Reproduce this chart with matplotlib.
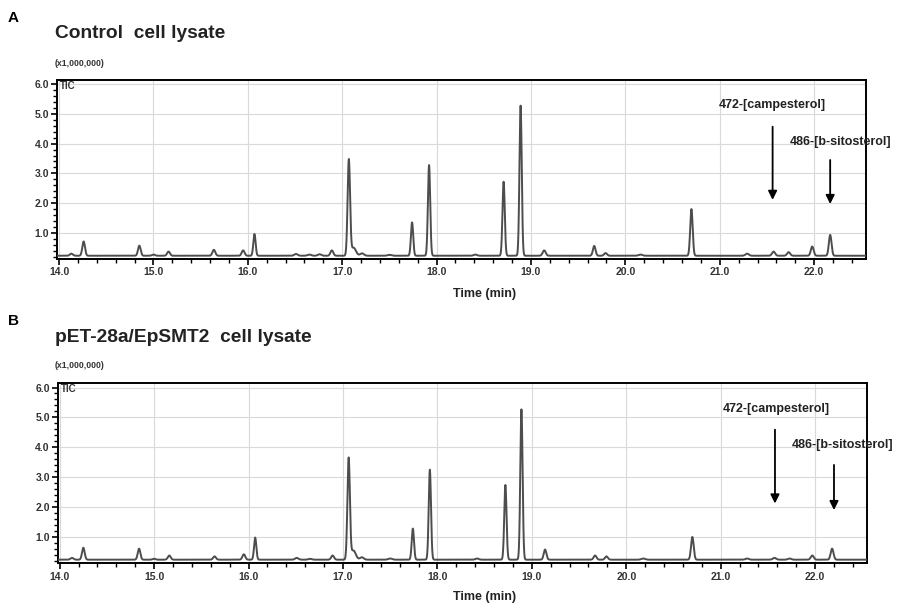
import numpy as np
import matplotlib
matplotlib.use("Agg")
import matplotlib.pyplot as plt
from matplotlib.ticker import MultipleLocator, FormatStrFormatter

plt.rcParams['font.family'] = ['Liberation Sans', 'DejaVu Sans']

# Retention time (min), apex intensity (x1,000,000) and width (min, sigma) of each peak
control_times = [14.13, 14.26, 14.85, 15.00, 15.16, 15.64, 15.95, 16.07, 16.51, 16.65,
                 16.76, 16.89, 17.07, 17.12, 17.21, 17.50, 17.74, 17.92, 18.41, 18.71,
                 18.89, 19.14, 19.67, 19.79, 20.16, 20.70, 21.29, 21.57, 21.73, 21.98, 22.17]
control_apex = [0.30, 0.71, 0.57, 0.27, 0.37, 0.43, 0.41, 0.96, 0.29, 0.27,
                0.28, 0.41, 3.45, 0.50, 0.31, 0.26, 1.35, 3.28, 0.27, 2.72,
                5.28, 0.41, 0.56, 0.32, 0.27, 1.80, 0.30, 0.37, 0.35, 0.54, 0.93]
control_width = [0.016, 0.014, 0.014, 0.016, 0.015, 0.015, 0.015, 0.012, 0.018, 0.018,
                 0.018, 0.015, 0.013, 0.025, 0.020, 0.020, 0.012, 0.012, 0.018, 0.012,
                 0.012, 0.016, 0.014, 0.015, 0.020, 0.013, 0.018, 0.016, 0.016, 0.015, 0.014]
control_baseline = 0.23

smt2_times = [14.13, 14.25, 14.84, 15.00, 15.16, 15.64, 15.95, 16.07, 16.51, 16.65,
              16.89, 17.06, 17.11, 17.20, 17.50, 17.74, 17.92, 18.42, 18.72, 18.89,
              19.14, 19.67, 19.79, 20.18, 20.70, 21.28, 21.57, 21.73, 21.97, 22.18]
smt2_apex = [0.30, 0.64, 0.61, 0.27, 0.38, 0.35, 0.42, 0.98, 0.30, 0.27,
             0.38, 3.62, 0.55, 0.32, 0.28, 1.28, 3.25, 0.28, 2.74, 5.27,
             0.58, 0.38, 0.35, 0.28, 1.00, 0.28, 0.30, 0.28, 0.38, 0.61]
smt2_width = [0.016, 0.014, 0.014, 0.016, 0.015, 0.015, 0.015, 0.012, 0.018, 0.018,
              0.015, 0.013, 0.025, 0.020, 0.020, 0.012, 0.012, 0.018, 0.012, 0.012,
              0.014, 0.015, 0.015, 0.020, 0.014, 0.018, 0.018, 0.018, 0.016, 0.015]
smt2_baseline = 0.24

panel_letters = ["A", "B"]
panel_titles = ["Control  cell lysate", "pET-28a/EpSMT2  cell lysate"]

# Marker annotations: label, arrow time, arrow start / tip intensity, label position
marker_labels = ["472-[campesterol]", "486-[b-sitosterol]"]
control_arrow_t = [21.56, 22.17]
control_arrow_from = [4.57, 3.45]
control_arrow_to = [2.11, 1.97]
control_label_t = [21.56, 22.28]
control_label_y = [5.29, 4.06]
smt2_arrow_t = [21.575, 22.20]
smt2_arrow_from = [4.59, 3.41]
smt2_arrow_to = [2.12, 1.90]
smt2_label_t = [21.59, 22.29]
smt2_label_y = [5.29, 4.06]

x_ticks = [14.0, 15.0, 16.0, 17.0, 18.0, 19.0, 20.0, 21.0, 22.0]
y_ticks = [1.0, 2.0, 3.0, 4.0, 5.0, 6.0]

XMIN, XMAX = 13.983, 22.55
YMIN, YMAX = 0.12, 6.14


def chromatogram(t, times, apex, widths, base):
    y = np.full_like(t, base)
    for tc, a, s in zip(times, apex, widths):
        y += (a - base) * np.exp(-0.5 * ((t - tc) / s) ** 2)
    return y


fig = plt.figure(figsize=(9.01, 6.10), dpi=100)

panels = [
    dict(rect=[0.0638, 0.5754, 0.8974, 0.2934], times=control_times, apex=control_apex,
         widths=control_width, base=control_baseline, at=control_arrow_t,
         af=control_arrow_from, ato=control_arrow_to, lt=control_label_t,
         ly=control_label_y, top=80),
    dict(rect=[0.0645, 0.0766, 0.8978, 0.2950], times=smt2_times, apex=smt2_apex,
         widths=smt2_width, base=smt2_baseline, at=smt2_arrow_t,
         af=smt2_arrow_from, ato=smt2_arrow_to, lt=smt2_label_t,
         ly=smt2_label_y, top=383),
]

t = np.linspace(XMIN, XMAX, 6000)
W, H = 901, 610
for i, p in enumerate(panels):
    ax = fig.add_axes(p["rect"])
    ax.plot(t, chromatogram(t, p["times"], p["apex"], p["widths"], p["base"]),
            color="#4d4d4d", lw=1.4, zorder=3)
    ax.set_xlim(XMIN, XMAX)
    ax.set_ylim(YMIN, YMAX)
    ax.set_xticks(x_ticks)
    ax.set_yticks(y_ticks)
    ax.xaxis.set_minor_locator(MultipleLocator(0.2))
    ax.yaxis.set_minor_locator(MultipleLocator(0.2))
    ax.xaxis.set_major_formatter(FormatStrFormatter("%.1f"))
    ax.yaxis.set_major_formatter(FormatStrFormatter("%.1f"))
    ax.tick_params(which="major", direction="out", length=4, width=1.2,
                   labelsize=7.5, labelcolor="#333333", pad=2)
    ax.tick_params(which="minor", direction="out", length=3, width=1.0)
    for lab in ax.get_xticklabels() + ax.get_yticklabels():
        lab.set_fontweight("bold")
    ax.grid(True, which="major", color="#d9d9d9", lw=0.8, zorder=0)
    for sp in ax.spines.values():
        sp.set_linewidth(1.4)
        sp.set_color("black")
    ax.text(0.003, 0.995, "TIC", transform=ax.transAxes, fontsize=7,
            fontweight="bold", color="#333333", va="top", ha="left")

    for lab, at, af, ato, lt, ly in zip(marker_labels, p["at"], p["af"], p["ato"],
                                         p["lt"], p["ly"]):
        ax.annotate("", xy=(at, ato), xytext=(at, af),
                    arrowprops=dict(arrowstyle="-|>", color="black", lw=1.3,
                                    mutation_scale=13, shrinkA=0, shrinkB=0))
        ax.text(lt, ly, lab, fontsize=9, fontweight="bold", color="#222222",
                ha="center", va="center", clip_on=False)

    top = p["top"]
    fig.text(8 / W, 1 - (top - 62) / H, panel_letters[i], fontsize=11,
             fontweight="bold", ha="left", va="center")
    fig.text(55 / W, 1 - (top - 46) / H, panel_titles[i], fontsize=13.8,
             fontweight="bold", color="#222222", ha="left", va="center")
    fig.text(55 / W, 1 - (top - 17) / H, "(x1,000,000)", fontsize=6.3,
             fontweight="bold", color="#333333", ha="left", va="center")
    fig.text(485 / W, 1 - (top + 214) / H, "Time (min)", fontsize=9,
             fontweight="bold", color="#222222", ha="center", va="center")

fig.savefig("out.png", dpi=100)
